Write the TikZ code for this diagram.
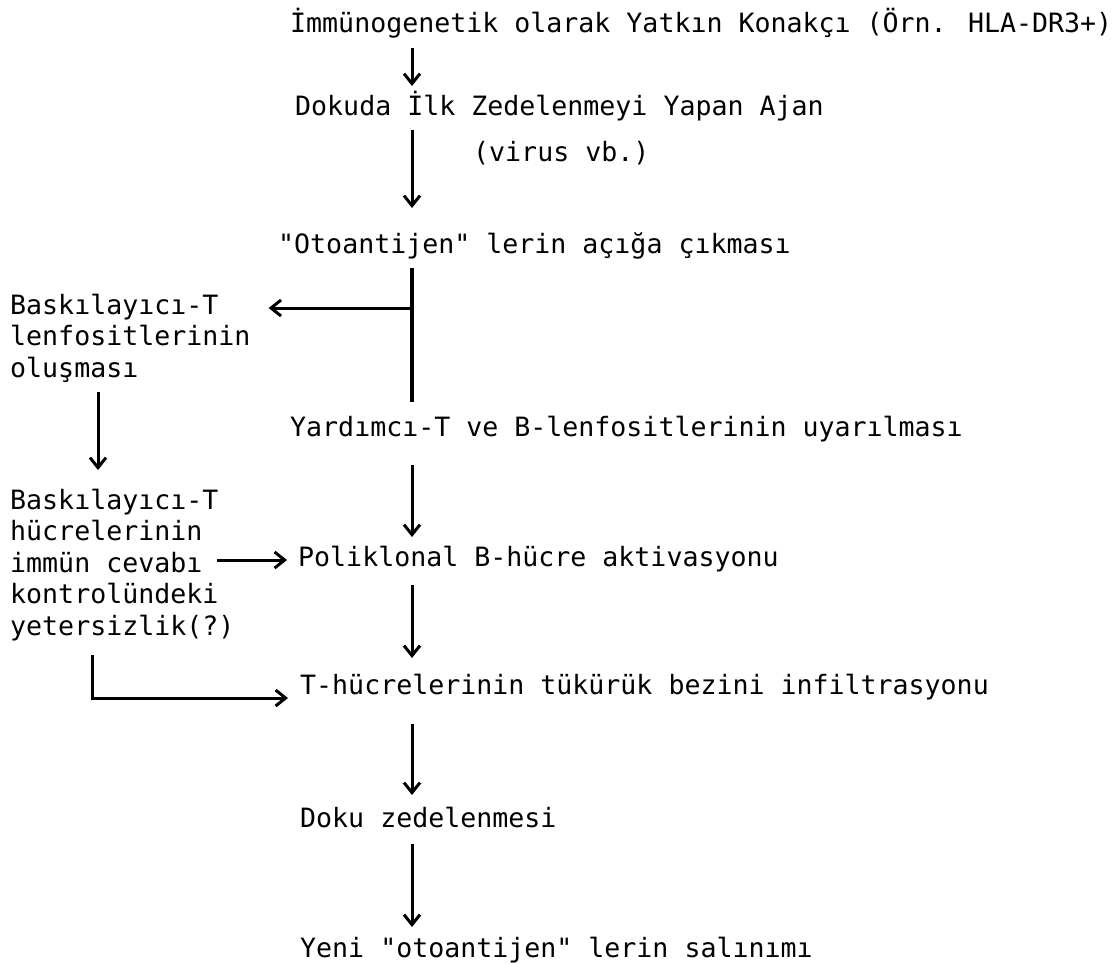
\documentclass[tikz,border=0pt]{standalone}
\usepackage{fontspec}
\newfontfamily\tw{DejaVu Sans Mono}
\usetikzlibrary{arrows.meta,calc}
\begin{document}
\begin{tikzpicture}[x=1pt,y=-1pt,
  txt/.style={anchor=base west,inner sep=0pt,align=left,font=\tw\fontsize{26.6}{31.5}\selectfont},
  arr/.style={line width=3pt,-{Straight Barb[length=10pt,width=16pt]}},
  ln/.style={line width=3.2pt}]
\useasboundingbox (0,0) rectangle (1120,964);
\coordinate (col) at (412,0);
\coordinate (lc) at (98,0);
\node[txt] (r1) at (290,32) {İmmünogenetik olarak Yatkın Konakçı (Örn. HLA-DR3+)};
\node[txt] (r2) at (295,115) {Dokuda İlk Zedelenmeyi Yapan Ajan};
\node[txt] (vir) at (473,161) {(virus vb.)};
\node[txt] (r3) at (278,253) {"Otoantijen" lerin açığa çıkması};
\node[txt] (b1) at (10,377) {Baskılayıcı-T\\lenfositlerinin\\oluşması};
\node[txt] (yar) at (290,436) {Yardımcı-T ve B-lenfositlerinin uyarılması};
\node[txt] (b2) at (10,635) {Baskılayıcı-T\\hücrelerinin\\immün cevabı\\kontrolündeki\\yetersizlik(?)};
\node[txt] (pol) at (298,566) {Poliklonal B-hücre aktivasyonu};
\node[txt] (thu) at (300,694) {T-hücrelerinin tükürük bezini infiltrasyonu};
\node[txt] (dok) at (300,827) {Doku zedelenmesi};
\node[txt] (yen) at (300,957) {Yeni "otoantijen" lerin salınımı};

\draw[arr] ($(r1.base -| col)+(0,16)$) -- ($(r2.base -| col)+(0,-29)$);
\draw[arr] ($(r2.base -| col)+(0,15)$) -- ($(r3.base -| col)+(0,-45)$);
\draw[ln] ($(r3.base -| col)+(0,15)$) -- ($(yar.base -| col)+(0,-34)$);
\coordinate (sp) at ($(r3.base -| col)+(0,55)$);
\draw[arr] (sp) -- ($(sp -| b1.east)+(18,0)$);
\draw[arr] ($(b1.base -| lc)+(0,15)$) -- ($(b2.base -| lc)+(0,-165)$);
\draw[arr] ($(yar.base -| col)+(0,29)$) -- ($(pol.base -| col)+(0,-29)$);
\draw[arr] ($(b2.base west)+(207,-75)$) -- ($(pol.base west)+(-11,-6)$);
\draw[arr] ($(pol.base -| col)+(0,19)$) -- ($(thu.base -| col)+(0,-36)$);
\draw[arr] ($(b2.base west)+(82,20)$) |- ($(thu.base west)+(-12,4)$);
\draw[arr] ($(thu.base -| col)+(0,30)$) -- ($(dok.base -| col)+(0,-32)$);
\draw[arr] ($(dok.base -| col)+(0,17)$) -- ($(yen.base -| col)+(0,-30)$);
\end{tikzpicture}
\end{document}
